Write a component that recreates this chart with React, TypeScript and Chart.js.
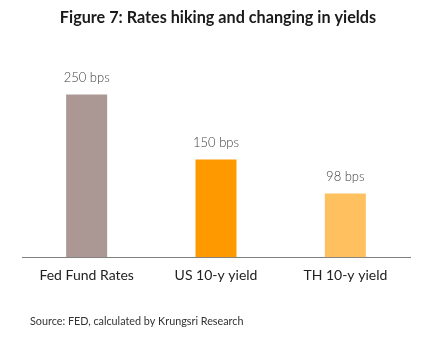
import React, { useEffect, useRef } from "react";
import { Chart, registerables } from "chart.js";

Chart.register(...registerables);

const categories = ["Fed Fund Rates", "US 10-y yield", "TH 10-y yield"];
const values = [250, 150, 98];
const valueLabels = ["250 bps", "150 bps", "98 bps"];
const barColors = ["#AB9794", "#FF9900", "#FFC160"];
const titleText = "Figure 7: Rates hiking and changing in yields";
const sourceText = "Source: FED, calculated by Krungsri Research";

const FONT = "Lato, 'Open Sans', 'DejaVu Sans', sans-serif";

const textPlugin = {
  id: "textPlugin",
  afterDatasetsDraw(chart: any) {
    const ctx = chart.ctx;
    ctx.save();
    // data labels
    const meta = chart.getDatasetMeta(0);
    ctx.fillStyle = "#404040";
    ctx.font = `300 13px ${FONT}`;
    ctx.textAlign = "center";
    ctx.textBaseline = "middle";
    meta.data.forEach((bar: any, i: number) => {
      ctx.fillText(valueLabels[i], bar.x, bar.y - 17);
    });
    // title
    ctx.fillStyle = "#1a1a1a";
    ctx.font = `bold 16.2px ${FONT}`;
    ctx.fillText(titleText, 218, 18);
    // source
    ctx.fillStyle = "#333333";
    ctx.font = `10.8px ${FONT}`;
    ctx.textAlign = "left";
    ctx.fillText(sourceText, 30, 322);
    ctx.restore();
  },
};

export default function App() {
  const ref = useRef<HTMLCanvasElement>(null);
  useEffect(() => {
    document.body.style.margin = "0";
    const chart = new Chart(ref.current as HTMLCanvasElement, {
      type: "bar",
      data: {
        labels: categories,
        datasets: [
          {
            data: values,
            backgroundColor: barColors,
            categoryPercentage: 1,
            barPercentage: 0.317,
          },
        ],
      },
      options: {
        animation: false,
        responsive: false,
        maintainAspectRatio: false,
        layout: { padding: { top: 62, left: 22, right: 25, bottom: 43 } },
        plugins: {
          legend: { display: false },
          title: { display: false },
          tooltip: { enabled: false },
        },
        scales: {
          x: {
            grid: { display: false, drawTicks: false },
            border: { display: true, color: "#808080", width: 1 },
            ticks: {
              padding: 10,
              color: "#222222",
              font: { family: FONT, size: 14 },
            },
          },
          y: {
            display: false,
            min: 0,
            max: 300,
          },
        },
      },
      plugins: [textPlugin],
    });
    return () => chart.destroy();
  }, []);
  return (
    <div style={{ width: 435, height: 337, background: "#fff" }}>
      <canvas ref={ref} width={435} height={337} />
    </div>
  );
}
